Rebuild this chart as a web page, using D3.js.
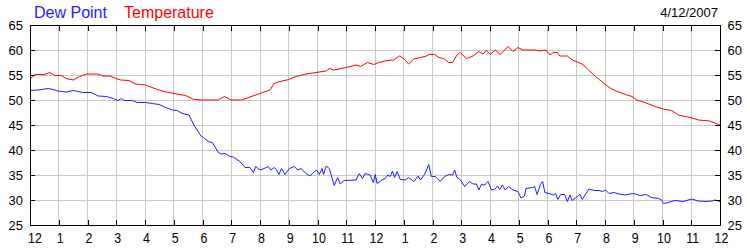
<!DOCTYPE html>
<html>
<head>
<meta charset="utf-8">
<script src="https://cdn.jsdelivr.net/npm/d3@7"></script>
<style>
  body { margin: 0; background: #fff; }
  svg { display: block; font-family: "Liberation Sans", Arial, sans-serif; }
</style>
</head>
<body>
<div id="chart"></div>
<script>
// hours since midnight and readings
const tempHours = [0,0.18,0.51,0.69,0.86,1.09,1.26,1.5,1.73,1.96,2.37,2.54,2.77,3.0,3.15,3.44,3.68,4.02,4.43,4.66,5.01,5.41,5.7,6.0,6.55,6.76,7.0,7.36,7.65,8.0,8.35,8.49,8.7,9.0,9.25,9.6,9.95,10.3,10.41,10.58,10.99,11.34,11.5,11.74,11.96,12.13,12.42,12.65,12.85,13.0,13.17,13.35,13.58,13.75,13.89,14.08,14.22,14.39,14.56,14.7,14.85,14.96,15.18,15.41,15.61,15.76,15.87,16.01,16.18,16.36,16.63,16.8,16.97,17.15,17.55,17.73,17.95,18.09,18.2,18.34,18.43,18.69,18.86,19.2,19.38,19.67,19.97,20.2,20.43,20.72,20.94,21.1,21.39,21.74,22.03,22.32,22.55,22.96,23.25,23.65,24];
const tempValues = [54.2,55.1,55.1,55.5,54.9,54.9,54.3,54.0,54.7,55.2,55.2,54.8,54.8,54.3,54.0,53.9,53.2,53.0,52.1,51.7,51.3,50.9,50.1,50.0,50.0,50.7,50.0,50.0,50.6,51.3,52.0,53.3,53.7,54.1,54.7,55.2,55.5,55.8,56.3,56.0,56.5,57.0,56.7,57.5,57.1,57.5,57.9,58.0,58.8,58.3,57.2,58.2,58.5,58.7,59.1,59.1,58.5,58.3,57.5,57.5,59.0,59.5,58.3,58.8,59.7,59.2,59.9,59.1,60.0,59.1,60.7,59.7,60.5,60.0,60.0,59.8,60.0,59.0,59.5,59.5,58.8,58.8,58.0,57.2,56.3,54.7,53.3,52.3,51.7,51.1,50.7,50.0,49.5,48.7,48.2,47.9,47.0,46.5,46.0,45.8,45.0];

const dewHours = [0,0.28,0.63,0.8,0.97,1.26,1.5,1.67,1.84,2.13,2.37,2.66,2.89,3.06,3.18,3.27,3.56,3.73,4.02,4.26,4.49,4.72,4.95,5.12,5.3,5.53,5.7,5.96,6.03,6.2,6.34,6.55,6.67,6.78,6.96,7.07,7.3,7.48,7.65,7.77,7.85,8.0,8.14,8.29,8.38,8.49,8.58,8.66,8.75,8.87,9.02,9.2,9.31,9.43,9.6,9.74,9.86,9.97,10.06,10.16,10.21,10.3,10.41,10.58,10.7,10.79,10.93,11.34,11.45,11.57,11.65,11.83,11.94,12.01,12.07,12.24,12.36,12.45,12.53,12.61,12.68,12.77,12.88,13.05,13.17,13.35,13.5,13.58,13.73,13.87,13.96,14.1,14.27,14.42,14.58,14.7,14.77,14.85,14.96,15.12,15.29,15.41,15.53,15.61,15.7,15.82,15.93,16.05,16.16,16.26,16.34,16.43,16.53,16.65,16.8,16.97,17.08,17.2,17.25,17.48,17.55,17.64,17.75,17.83,17.91,18.11,18.2,18.28,18.36,18.46,18.6,18.69,18.78,18.86,19.04,19.13,19.21,19.33,19.44,19.62,19.79,19.91,20.02,20.14,20.31,20.49,20.7,20.87,21.0,21.22,21.43,21.62,21.86,21.97,22.03,22.2,22.43,22.72,23.01,23.25,23.48,23.71,23.83,24];
const dewValues = [51.9,52.0,52.3,52.1,51.8,51.6,51.9,51.7,51.5,51.5,50.8,50.7,50.3,49.9,50.3,49.9,49.9,49.5,49.5,49.3,49.1,48.5,48.0,47.9,47.3,47.0,45.0,42.7,42.5,41.7,41.5,39.5,39.2,39.3,38.7,38.6,37.7,36.5,36.5,35.5,36.7,36.0,36.3,36.7,36.0,36.5,36.0,35.1,36.3,35.1,36.3,36.7,36.0,36.3,35.3,34.8,35.5,36.0,35.1,36.3,35.1,36.8,36.3,32.9,34.5,33.2,33.9,34.0,35.3,34.3,35.3,35.0,33.5,35.1,33.3,34.0,34.3,35.0,34.7,35.8,34.5,35.7,34.1,34.0,34.5,33.7,34.8,34.0,35.2,37.1,34.7,34.7,33.7,34.7,35.1,35.0,36.0,34.5,34.1,32.7,33.7,33.2,33.2,32.0,33.1,33.0,33.7,32.0,32.1,32.8,32.1,33.0,32.0,32.7,32.0,31.7,30.4,30.8,32.3,32.5,32.7,31.1,33.1,33.7,31.5,31.2,31.0,31.3,30.1,31.1,31.1,29.7,31.0,29.9,30.7,31.1,30.1,31.2,32.2,31.9,31.9,31.7,32.0,31.3,31.5,31.2,31.0,31.2,31.3,30.9,31.1,30.5,30.3,30.0,29.3,29.5,29.9,29.7,30.2,29.8,29.7,29.8,30.0,29.7];

const hourTicks = d3.range(0, 25);
const hourLabels = [12,1,2,3,4,5,6,7,8,9,10,11,12,1,2,3,4,5,6,7,8,9,10,11,12];
const yTicks = [25,30,35,40,45,50,55,60,65];
const seriesNames = ["Dew Point", "Temperature"];
const dateLabel = "4/12/2007";

const W = 750, H = 250;
const plot = {left: 30, right: 720, top: 25, bottom: 225};

const svg = d3.select("#chart").append("svg")
  .attr("width", W).attr("height", H);

const x = d3.scaleLinear().domain([0, 24]).range([plot.left, plot.right]);
const y = d3.scaleLinear().domain([25, 65]).range([plot.bottom, plot.top]);

// grid
const grid = svg.append("g").attr("stroke", "#c8c8c8").attr("shape-rendering", "crispEdges");
grid.selectAll(".vg").data(hourTicks.slice(1, -1)).join("line")
  .attr("x1", d => x(d)).attr("x2", d => x(d))
  .attr("y1", plot.top).attr("y2", plot.bottom);
grid.selectAll(".hg").data(yTicks.slice(1, -1)).join("line")
  .attr("x1", plot.left).attr("x2", plot.right)
  .attr("y1", d => y(d)).attr("y2", d => y(d));

// lines
const line = d3.line().x(d => x(d[0])).y(d => y(d[1]));
svg.append("path")
  .datum(dewHours.map((h, i) => [h, dewValues[i]]))
  .attr("fill", "none").attr("stroke", "#1e1eff").attr("stroke-width", 1)
  .attr("d", line);
svg.append("path")
  .datum(tempHours.map((h, i) => [h, tempValues[i]]))
  .attr("fill", "none").attr("stroke", "#ff0000").attr("stroke-width", 1)
  .attr("d", line);

// axes, ticks pointing inward
function styleAxis(g) {
  g.attr("shape-rendering", "crispEdges");
  g.select(".domain").attr("stroke", "#000");
  g.selectAll(".tick line").attr("stroke", "#000");
  g.selectAll("text").attr("fill", "#000");
  g.attr("font-family", null);
}

svg.append("g").attr("transform", `translate(0,${plot.top})`)
  .call(d3.axisTop(x).tickValues(hourTicks).tickSize(-6).tickSizeOuter(0).tickFormat(""))
  .call(styleAxis);

const bottomAxis = svg.append("g").attr("transform", `translate(0,${plot.bottom})`)
  .call(d3.axisBottom(x).tickValues(hourTicks).tickSize(-5).tickSizeOuter(0).tickPadding(7.5)
    .tickFormat((d, i) => hourLabels[i]))
  .call(styleAxis)
  .attr("font-size", 15.5);
bottomAxis.selectAll(".tick text")
  .attr("transform", (d, i) => {
    // keep the first label inside the plot edge
    const shift = i === 0 ? 4.5 : 1;
    return `translate(${shift},0) scale(0.8,1)`;
  });

svg.append("g").attr("transform", `translate(${plot.left},0)`)
  .call(d3.axisLeft(y).tickValues(yTicks).tickSize(-5).tickSizeOuter(0).tickPadding(7))
  .call(styleAxis)
  .attr("font-size", 13);

svg.append("g").attr("transform", `translate(${plot.right},0)`)
  .call(d3.axisRight(y).tickValues(yTicks).tickSize(-5).tickSizeOuter(0).tickPadding(7.5))
  .call(styleAxis)
  .attr("font-size", 13);

// legend text and date
svg.append("text").attr("x", 34).attr("y", 17.5)
  .attr("font-size", 16).attr("fill", "#1e1eff").text(seriesNames[0]);
svg.append("text").attr("x", 124).attr("y", 17.5)
  .attr("font-size", 16).attr("fill", "#ff0000").text(seriesNames[1]);
svg.append("text").attr("x", 718).attr("y", 16.7).attr("text-anchor", "end")
  .attr("font-size", 13).attr("fill", "#000").text(dateLabel);
</script>
</body>
</html>
